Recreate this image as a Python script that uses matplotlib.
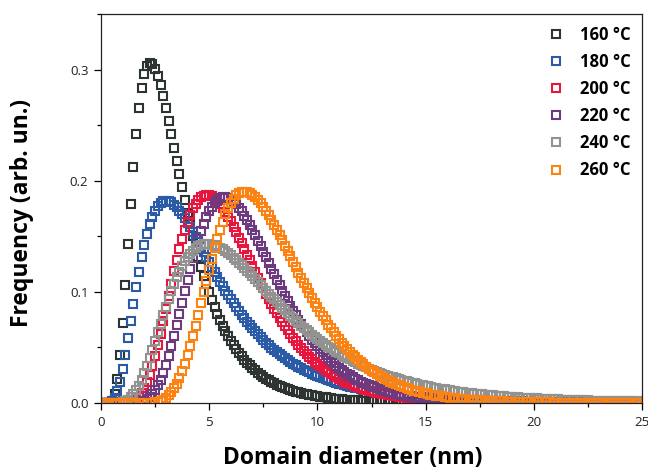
import numpy as np
import matplotlib.pyplot as plt
from matplotlib.ticker import MultipleLocator

plt.rcParams['font.family'] = ['Open Sans', 'DejaVu Sans']

# curves are sampled every 0.125 nm from 0 to 25 nm
diameter = np.arange(201) * 0.125

# frequency values, in units of 1e-4 (one row = 1 nm)
freq_160 = [
    0, 0, 0, 3, 22, 85, 218, 434,
    723, 1064, 1429, 1790, 2125, 2416, 2655, 2837,
    2962, 3035, 3060, 3047, 3005, 2940, 2857, 2760,
    2653, 2538, 2420, 2298, 2177, 2057, 1939, 1824,
    1713, 1607, 1505, 1408, 1316, 1228, 1146, 1069,
    996, 928, 864, 804, 749, 697, 648, 603,
    561, 522, 485, 451, 420, 390, 363, 338,
    315, 293, 273, 254, 236, 220, 205, 191,
    178, 166, 155, 144, 135, 126, 117, 110,
    102, 95, 89, 83, 78, 73, 68, 64,
    60, 57, 53, 50, 46, 43, 40, 38,
    35, 33, 31, 30, 28, 26, 24, 23,
    21, 20, 19, 18, 17, 16, 15, 14,
    13, 12, 12, 11, 10, 10, 9, 9,
    8, 8, 7, 7, 7, 6, 6, 6,
    5, 5, 5, 4, 4, 4, 4, 3,
    3, 3, 3, 3, 3, 2, 2, 2,
    2, 2, 2, 2, 2, 1, 1, 1,
    1, 1, 1, 1, 1, 1, 1, 1,
    1, 0, 0, 0, 0, 0, 0, 0,
    0, 0, 0, 0, 0, 0, 0, 0,
    0, 0, 0, 0, 0, 0, 0, 0,
    0, 0, 0, 0, 0, 0, 0, 0,
    0, 0, 0, 0, 0, 0, 0, 0,
    0, 0, 0, 0, 0, 0, 0, 0,
    0,
]
freq_180 = [
    0, 0, 0, 3, 15, 47, 105, 191,
    303, 436, 582, 736, 891, 1041, 1182, 1311,
    1425, 1525, 1609, 1678, 1732, 1772, 1800, 1815,
    1820, 1816, 1804, 1785, 1761, 1732, 1698, 1662,
    1622, 1581, 1538, 1494, 1448, 1403, 1357, 1312,
    1267, 1222, 1178, 1135, 1093, 1051, 1011, 972,
    934, 897, 861, 827, 793, 761, 730, 700,
    671, 644, 617, 592, 567, 543, 521, 499,
    478, 458, 439, 421, 404, 387, 371, 355,
    341, 326, 313, 300, 287, 276, 264, 253,
    243, 233, 224, 215, 206, 198, 190, 182,
    175, 168, 161, 154, 148, 142, 136, 131,
    126, 121, 117, 112, 108, 104, 100, 96,
    92, 89, 85, 82, 79, 76, 73, 70,
    67, 65, 63, 61, 58, 56, 54, 52,
    50, 48, 47, 45, 43, 42, 40, 39,
    37, 36, 35, 33, 32, 31, 30, 29,
    28, 27, 26, 25, 24, 23, 23, 22,
    21, 20, 20, 19, 18, 18, 17, 17,
    16, 15, 15, 14, 14, 13, 13, 12,
    12, 12, 11, 11, 11, 10, 10, 10,
    9, 9, 9, 8, 8, 8, 8, 7,
    7, 7, 7, 6, 6, 6, 6, 6,
    6, 5, 5, 5, 5, 5, 5, 5,
    4, 4, 4, 4, 4, 4, 4, 4,
    4,
]
freq_200 = [
    0, 0, 0, 0, 0, 0, 0, 0,
    0, 2, 4, 9, 19, 34, 57, 90,
    134, 189, 255, 334, 422, 520, 625, 735,
    848, 962, 1075, 1184, 1289, 1387, 1478, 1560,
    1633, 1696, 1750, 1793, 1826, 1850, 1864, 1870,
    1868, 1858, 1841, 1818, 1790, 1757, 1719, 1678,
    1634, 1587, 1539, 1489, 1438, 1386, 1335, 1283,
    1231, 1180, 1129, 1079, 1031, 983, 937, 892,
    849, 807, 766, 727, 689, 654, 619, 586,
    555, 525, 496, 469, 443, 418, 394, 372,
    351, 331, 312, 294, 277, 261, 246, 232,
    218, 205, 193, 182, 171, 161, 151, 142,
    134, 126, 119, 112, 105, 99, 93, 87,
    82, 77, 72, 68, 64, 60, 57, 53,
    50, 47, 45, 42, 40, 37, 35, 33,
    31, 29, 28, 26, 25, 23, 22, 20,
    19, 18, 17, 16, 15, 14, 13, 13,
    12, 11, 10, 10, 9, 9, 8, 8,
    7, 7, 6, 6, 6, 5, 5, 5,
    5, 4, 4, 4, 4, 4, 3, 3,
    3, 3, 3, 3, 2, 2, 2, 2,
    2, 2, 2, 2, 2, 1, 1, 1,
    1, 1, 1, 1, 1, 1, 1, 1,
    1, 1, 1, 0, 0, 0, 0, 0,
    0, 0, 0, 0, 0, 0, 0, 0,
    0,
]
freq_220 = [
    0, 0, 0, 0, 0, 0, 0, 0,
    0, 0, 0, 0, 1, 3, 6, 12,
    21, 35, 54, 81, 116, 159, 211, 273,
    344, 423, 510, 603, 701, 802, 904, 1007,
    1109, 1207, 1301, 1390, 1473, 1548, 1615, 1674,
    1725, 1766, 1800, 1824, 1840, 1849, 1849, 1843,
    1830, 1811, 1787, 1758, 1724, 1687, 1646, 1603,
    1557, 1510, 1461, 1411, 1360, 1310, 1259, 1208,
    1158, 1108, 1059, 1011, 964, 919, 874, 831,
    790, 749, 711, 673, 638, 603, 571, 539,
    510, 482, 455, 428, 403, 380, 358, 337,
    317, 298, 280, 264, 248, 233, 219, 206,
    193, 181, 170, 159, 149, 140, 131, 123,
    115, 108, 101, 95, 89, 83, 78, 73,
    69, 64, 60, 57, 53, 50, 47, 44,
    41, 38, 36, 34, 32, 30, 28, 26,
    24, 22, 21, 20, 19, 17, 16, 15,
    14, 13, 12, 12, 11, 10, 10, 9,
    8, 8, 7, 7, 6, 6, 6, 5,
    5, 5, 4, 4, 4, 4, 3, 3,
    3, 3, 3, 2, 2, 2, 2, 2,
    2, 2, 1, 1, 1, 1, 1, 1,
    1, 1, 1, 1, 1, 1, 1, 0,
    0, 0, 0, 0, 0, 0, 0, 0,
    0, 0, 0, 0, 0, 0, 0, 0,
    0,
]
freq_240 = [
    0, 0, 0, 0, 0, 0, 1, 3,
    7, 16, 29, 50, 77, 113, 157, 209,
    269, 334, 405, 480, 557, 636, 714, 791,
    866, 938, 1007, 1071, 1130, 1183, 1232, 1275,
    1313, 1344, 1371, 1392, 1409, 1420, 1427, 1430,
    1429, 1425, 1418, 1408, 1396, 1382, 1366, 1348,
    1329, 1309, 1287, 1264, 1241, 1216, 1191, 1166,
    1140, 1114, 1088, 1062, 1036, 1010, 984, 958,
    932, 907, 882, 857, 833, 809, 786, 763,
    741, 719, 697, 676, 655, 635, 616, 597,
    578, 560, 542, 525, 508, 492, 476, 461,
    446, 432, 418, 405, 392, 379, 367, 355,
    343, 332, 321, 310, 300, 290, 281, 272,
    263, 254, 246, 238, 230, 222, 215, 208,
    201, 195, 188, 182, 176, 170, 165, 159,
    154, 149, 144, 139, 135, 130, 126, 122,
    118, 114, 110, 107, 103, 100, 97, 94,
    91, 88, 85, 82, 80, 77, 75, 72,
    70, 68, 66, 64, 62, 60, 58, 56,
    54, 52, 51, 49, 48, 46, 45, 43,
    42, 41, 40, 39, 37, 36, 35, 34,
    33, 32, 31, 30, 30, 29, 28, 27,
    26, 25, 25, 24, 23, 22, 22, 21,
    20, 20, 19, 19, 18, 18, 17, 17,
    16, 16, 15, 15, 14, 14, 14, 13,
    13,
]
freq_260 = [
    0, 0, 0, 0, 0, 0, 0, 0,
    0, 0, 0, 0, 0, 0, 0, 0,
    0, 1, 2, 4, 7, 12, 20, 31,
    47, 68, 96, 131, 174, 225, 284, 352,
    428, 511, 600, 695, 794, 896, 998, 1101,
    1201, 1299, 1391, 1479, 1559, 1632, 1697, 1753,
    1800, 1838, 1867, 1886, 1897, 1900, 1896, 1886,
    1870, 1850, 1825, 1796, 1763, 1727, 1688, 1647,
    1603, 1558, 1512, 1464, 1416, 1368, 1319, 1270,
    1222, 1174, 1126, 1079, 1033, 988, 944, 902,
    860, 820, 781, 743, 706, 671, 637, 605,
    573, 544, 515, 488, 461, 436, 412, 390,
    368, 348, 328, 310, 292, 275, 260, 245,
    230, 217, 204, 192, 181, 170, 160, 151,
    142, 133, 125, 118, 110, 104, 98, 92,
    86, 81, 76, 71, 67, 63, 59, 55,
    52, 49, 46, 43, 40, 38, 35, 33,
    31, 29, 27, 26, 24, 23, 21, 20,
    19, 18, 17, 16, 15, 14, 13, 12,
    11, 11, 10, 9, 9, 8, 8, 7,
    7, 6, 6, 6, 5, 5, 5, 4,
    4, 4, 4, 3, 3, 3, 3, 3,
    2, 2, 2, 2, 2, 2, 2, 1,
    1, 1, 1, 1, 1, 1, 1, 1,
    1, 1, 1, 1, 1, 1, 1, 1,
    1,
]

series = [freq_160, freq_180, freq_200, freq_220, freq_240, freq_260]
labels = ["160 °C", "180 °C", "200 °C", "220 °C", "240 °C", "260 °C"]
colors = ["#2e3432", "#2b5aa6", "#e5173f", "#6c3a7e", "#929390", "#fb8313"]

fig = plt.figure(figsize=(6.48, 4.73), dpi=100)
ax = fig.add_axes([101 / 648, 70 / 473, 541 / 648, 389 / 473])

for freq, lab, col in zip(series, labels, colors):
    ax.plot(diameter, np.asarray(freq) * 1e-4, ls="none", marker="s",
            ms=5.2, mfc="none", mec=col, mew=1.5, label=lab)

ax.set_xlim(0, 25)
ax.set_ylim(0, 0.35)
ax.xaxis.set_major_locator(MultipleLocator(5))
ax.xaxis.set_minor_locator(MultipleLocator(2.5))
ax.yaxis.set_major_locator(MultipleLocator(0.1))
ax.yaxis.set_minor_locator(MultipleLocator(0.05))
ax.set_yticks([0, 0.1, 0.2, 0.3])
ax.set_yticklabels(["0.0", "0.1", "0.2", "0.3"])
ax.tick_params(which="major", length=5, width=0.9, labelsize=9.5,
               labelcolor="#222222", pad=4)
ax.tick_params(which="minor", length=3, width=0.9)
for sp in ax.spines.values():
    sp.set_linewidth(0.9)
    sp.set_color("#222222")

ax.set_xlabel("Domain diameter (nm)", fontsize=16.5, fontweight="bold")
ax.set_ylabel("Frequency (arb. un.)", fontsize=16.5, fontweight="bold")
ax.xaxis.set_label_coords((353 - 101) / 541, -(458 - 403) / 389)
ax.yaxis.set_label_coords(-(101 - 22) / 541, (403 - 213) / 389)
ax.xaxis.label.set_va("center")
ax.yaxis.label.set_va("center")

ax.legend(loc="upper right", frameon=False, numpoints=1,
          prop={"weight": "bold", "size": 12}, handlelength=1.0,
          handletextpad=0.9, labelspacing=0.55, borderaxespad=0.3,
          markerscale=1.1)

fig.savefig("out.png", dpi=100)
